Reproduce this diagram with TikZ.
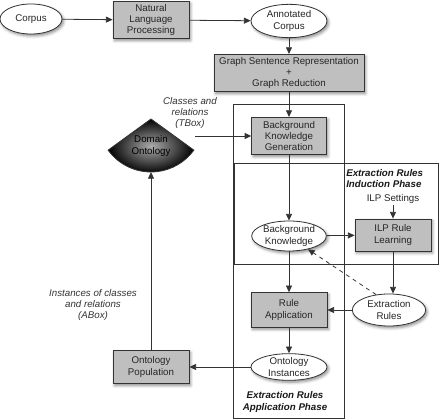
\documentclass[tikz,border=0pt]{standalone}
\usepackage{fontspec}
\setmainfont{Liberation Sans}
\usetikzlibrary{arrows.meta,shapes.geometric,shadows.blur}
\newcommand\diagfont{\fontsize{7.3}{8.6}\selectfont}
\tikzset{
  procbox/.style={draw=black!80, fill=gray!50, line width=0.6pt, align=center, inner sep=1pt,
    minimum width=57pt, minimum height=28pt, text=black!85,
    blur shadow={shadow xshift=1.2pt, shadow yshift=-1.5pt, shadow blur steps=4, shadow opacity=45}},
  dataoval/.style={ellipse, draw=black!80, fill=white, line width=0.6pt, align=center, inner sep=0pt,
    minimum width=57pt, minimum height=24pt, text=black!85,
    blur shadow={shadow xshift=1.2pt, shadow yshift=-1.5pt, shadow blur steps=4, shadow opacity=45}},
  flow/.style={draw=black!80, line width=0.6pt, -{Triangle[length=5pt,width=4.5pt]}},
  phaseframe/.style={draw=black!80, line width=0.6pt},
  notetext/.style={font=\diagfont\itshape, align=center, text=black!80, inner sep=0pt},
  phasetext/.style={font=\diagfont\bfseries\itshape, text=black!90, inner sep=0pt}
}
\begin{document}
\begin{tikzpicture}[x=0.75pt,y=0.75pt,yscale=-1,xscale=1,every node/.append style={font=\diagfont}]
        \useasboundingbox (0,0) rectangle (444,420);
        \draw [phaseframe] (233,104) rectangle (344,418);
        \draw [phaseframe] (234,163) rectangle (438,264);

        \draw [draw=black!80, line width=0.6pt, shading=radial, inner color=gray!65, outer color=black] (151,119) -- ++(144:53) arc [start angle=144, end angle=36, radius=53] -- cycle;
        \draw (151,146) node [text=black, align=center, inner sep=0pt] (onto) {Domain\\Ontology};
        \coordinate (ontoright) at (195,136);
        \coordinate (ontobottom) at (151,172);

        \draw (31,19) node [dataoval, minimum width=46.5pt, minimum height=22.5pt] (corpus) {Corpus};
        \draw (151,20) node [procbox] (nlp) {Natural\\Language\\Processing};
        \draw (289,21) node [dataoval, minimum height=25pt] (annot) {Annotated\\Corpus};
        \draw (289,73) node [procbox, minimum width=112.5pt] (graph) {Graph Sentence Representation\\+\\Graph Reduction};
        \draw (289,136) node [procbox, minimum width=56pt] (bkgen) {Background\\Knowledge\\Generation};
        \draw (289,236) node [dataoval, minimum width=56pt, minimum height=22.5pt] (bk) {Background\\Knowledge};
        \draw (393,235) node [procbox, minimum height=24pt] (ilp) {ILP Rule\\Learning};
        \draw (393,199) node [text=black!85, inner sep=1pt] (ilpset) {ILP Settings};
        \draw (389,310) node [dataoval, minimum width=55pt] (rules) {Extraction\\Rules};
        \draw (289,310) node [procbox, minimum height=26pt] (ruleapp) {Rule\\Application};
        \draw (289,367) node [dataoval, minimum height=20pt] (inst) {Ontology\\Instances};
        \draw (151,367) node [procbox, minimum height=25pt] (pop) {Ontology\\Population};

        \draw (190,113) node [notetext] (tboxlbl) {Classes and\\relations\\(TBox)};
        \draw (93,305) node [notetext] (aboxlbl) {Instances of classes\\and relations\\(ABox)};
        \draw (346,178.5) node [phasetext, anchor=west, align=left] (indlbl) {Extraction Rules\\Induction Phase};
        \draw (285,402) node [phasetext, align=center] (applbl) {Extraction Rules\\Application Phase};

        \draw [flow] (corpus) -- (nlp);
        \draw [flow] (nlp) -- (annot);
        \draw [flow] (annot) -- (graph);
        \draw [flow] (graph) -- (bkgen);
        \draw [flow] (ontoright) -- (bkgen.west |- ontoright);
        \draw [flow] (bkgen) -- (bk);
        \draw [flow] (bk) -- (ilp);
        \draw [flow] (ilpset) -- (ilp);
        \draw [flow] (ilp.south) -- (ilp.south |- rules.north);
        \draw [flow, dashed] (rules.130) -- (bk.-35);
        \draw [flow] (bk) -- (ruleapp);
        \draw [flow] (rules) -- (ruleapp);
        \draw [flow] (ruleapp) -- (inst);
        \draw [flow] (inst) -- (pop);
        \draw [flow] (pop) -- (ontobottom);
\end{tikzpicture}
\end{document}
